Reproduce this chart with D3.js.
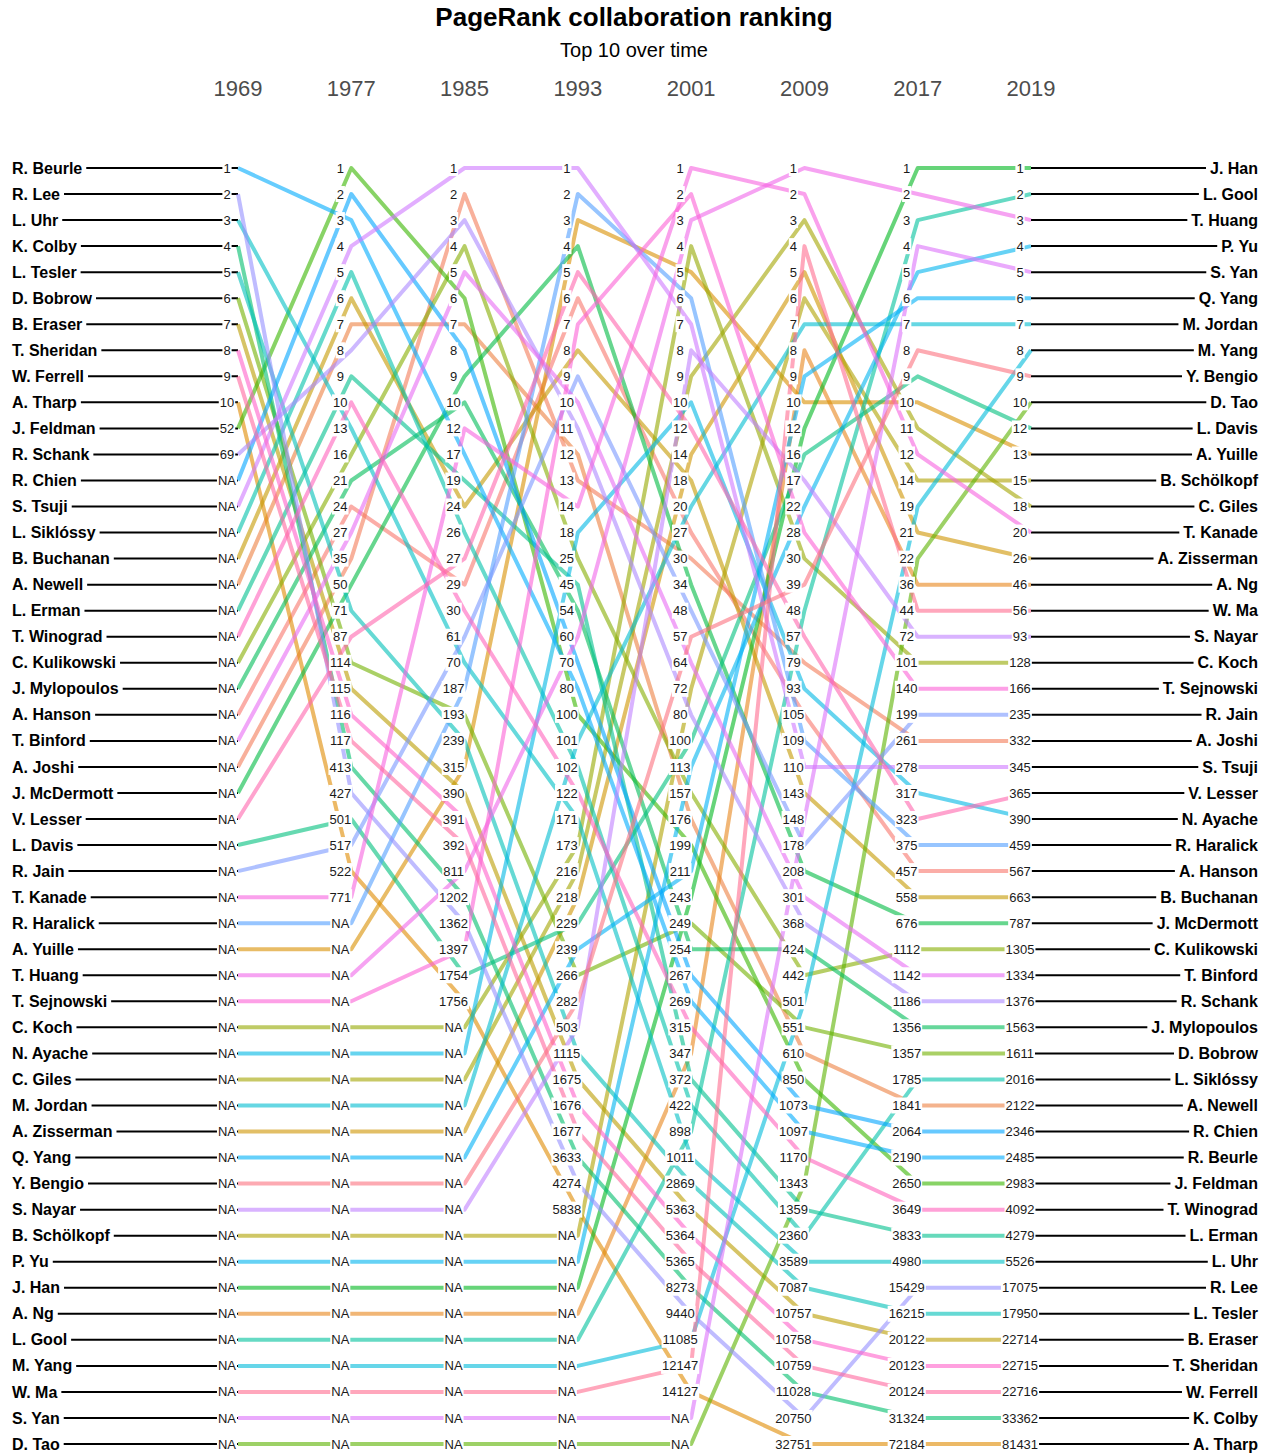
<!doctype html>
<html>
<head>
<script src="https://d3js.org/d3.v7.min.js"></script>
<style>
  body { margin: 0; background: #fff; }
  text { font-family: "Liberation Sans", Arial, sans-serif; }
</style>
</head>
<body>
<svg width="1268" height="1455"></svg>
<script>
// ---- data ----
var years = ["1969", "1977", "1985", "1993", "2001", "2009", "2017", "2019"];

var names = ["R. Beurle", "R. Lee", "L. Uhr", "K. Colby", "L. Tesler", "D. Bobrow", "B. Eraser",
  "T. Sheridan", "W. Ferrell", "A. Tharp", "J. Feldman", "R. Schank", "R. Chien", "S. Tsuji",
  "L. Siklóssy", "B. Buchanan", "A. Newell", "L. Erman", "T. Winograd", "C. Kulikowski",
  "J. Mylopoulos", "A. Hanson", "T. Binford", "A. Joshi", "J. McDermott", "V. Lesser", "L. Davis",
  "R. Jain", "T. Kanade", "R. Haralick", "A. Yuille", "T. Huang", "T. Sejnowski", "C. Koch",
  "N. Ayache", "C. Giles", "M. Jordan", "A. Zisserman", "Q. Yang", "Y. Bengio", "S. Nayar",
  "B. Schölkopf", "P. Yu", "J. Han", "A. Ng", "L. Gool", "M. Yang", "W. Ma", "S. Yan", "D. Tao"];

// rank of each person (same order as names), null = NA
var r1969 = [1, 2, 3, 4, 5, 6, 7, 8, 9, 10, 52, 69, null, null, null, null, null, null, null, null,
  null, null, null, null, null, null, null, null, null, null, null, null, null, null, null, null,
  null, null, null, null, null, null, null, null, null, null, null, null, null, null];
var r1977 = [3, 427, 13, 413, 71, 114, 115, 116, 117, 522, 1, 8, 2, 4, 5, 6, 7, 9, 10, 16,
  21, 24, 27, 35, 50, 87, 501, 517, 771, null, null, null, null, null, null, null,
  null, null, null, null, null, null, null, null, null, null, null, null, null, null];
var r1985 = [17, 1362, 70, 1202, 239, 193, 390, 391, 392, 1756, 6, 3, 8, 1, 26, 24, 7, 19, 30, 4,
  10, 29, 5, 2, 9, 27, 1754, 61, 12, 187, 315, 811, 1397, null, null, null,
  null, null, null, null, null, null, null, null, null, null, null, null, null, null];
var r1993 = [80, 4274, 171, 3633, 1115, 266, 1675, 1676, 1677, 5838, 100, 11, 70, 1, 102, 8, 12, 45, 122, 25,
  54, 6, 10, 13, 4, 5, 229, 9, 14, 2, 3, 60, 7, 173, 18, 216,
  101, 218, 239, 282, 503, null, null, null, null, null, null, null, null, null];
var r2001 = [269, 9440, 1011, 8273, 2869, 249, 5363, 5364, 5365, 14127, 199, 80, 267, 7, 422, 18, 176, 372, 315, 157,
  254, 27, 64, 30, 34, 12, 100, 48, 1, 6, 5, 3, 2, 4, 10, 9,
  20, 14, 211, 57, 8, 72, 113, 243, 347, 898, 11085, 12147, null, null];
var r2009 = [1097, 20750, 3589, 11028, 7087, 551, 10757, 10758, 10759, 32751, 850, 368, 1073, 110, 2360, 143, 610, 1359, 1170, 442,
  424, 105, 301, 79, 208, 57, 16, 178, 2, 109, 10, 1, 28, 30, 93, 3,
  7, 5, 9, 39, 17, 6, 22, 12, 8, 48, 501, 4, 148, 1343];
var r2017 = [2190, 15429, 4980, 31324, 16215, 1357, 20122, 20123, 20124, 72184, 2650, 1186, 2064, 278, 1785, 558, 1841, 3833, 3649, 1112,
  1356, 457, 1142, 261, 676, 323, 9, 199, 12, 375, 10, 2, 140, 101, 317, 11,
  7, 21, 6, 8, 72, 14, 5, 1, 36, 3, 19, 44, 4, 22];
var r2019 = [2485, 17075, 5526, 33362, 17950, 1611, 22714, 22715, 22716, 81431, 2983, 1376, 2346, 345, 2016, 663, 2122, 4279, 4092, 1305,
  1563, 567, 1334, 332, 787, 365, 12, 235, 20, 459, 13, 3, 166, 128, 390, 18,
  7, 26, 6, 9, 93, 15, 4, 1, 46, 2, 8, 56, 5, 10];

var ranks = [r1969, r1977, r1985, r1993, r2001, r2009, r2017, r2019];

// ---- layout ----
var svg = d3.select("svg");
var n = names.length;

var x = d3.scalePoint().domain(years).range([238, 1031]);
var y = d3.scaleLinear().domain([0, n - 1]).range([168, 1444]);

// colour: hue wheel (polar Luv, like R's hcl) over alphabetical order of names
function hclLuv(h, c, l) {
  var hr = h * Math.PI / 180;
  var u = c * Math.cos(hr), v = c * Math.sin(hr);
  var Xn = 95.047, Yn = 100, Zn = 108.883;
  var un = 4 * Xn / (Xn + 15 * Yn + 3 * Zn), vn = 9 * Yn / (Xn + 15 * Yn + 3 * Zn);
  var Y = l > 8 ? Yn * Math.pow((l + 16) / 116, 3) : Yn * l / 903.3;
  var up = u / (13 * l) + un, vp = v / (13 * l) + vn;
  var X = Y * 9 * up / (4 * vp), Z = Y * (12 - 3 * up - 20 * vp) / (4 * vp);
  X /= 100; Y /= 100; Z /= 100;
  var rgb = [
    3.2404542 * X - 1.5371385 * Y - 0.4985314 * Z,
    -0.9692660 * X + 1.8760108 * Y + 0.0415560 * Z,
    0.0556434 * X - 0.2040259 * Y + 1.0572252 * Z
  ].map(function(c) {
    c = c <= 0.0031308 ? 12.92 * c : 1.055 * Math.pow(c, 1 / 2.4) - 0.055;
    return Math.round(255 * Math.max(0, Math.min(1, c)));
  });
  return d3.rgb(rgb[0], rgb[1], rgb[2]).toString();
}
var alpha = names.slice().sort();
var hue = d3.scaleLinear().domain([0, n]).range([15, 375]);
function color(name) {
  return hclLuv(hue(alpha.indexOf(name)) % 360, 100, 65);
}

// row position of every person in every column (NA last, ties keep previous order)
var pos = [];
var prev = d3.range(n);
ranks.forEach(function(r, j) {
  var order = d3.range(n).sort(function(a, b) {
    var ra = r[a] == null ? Infinity : r[a];
    var rb = r[b] == null ? Infinity : r[b];
    return (ra - rb) || (prev[a] - prev[b]);
  });
  var p = [];
  order.forEach(function(person, row) { p[person] = row; });
  pos.push(p);
  prev = p;
});

// title
svg.append("text")
  .attr("x", 634).attr("y", 26)
  .attr("text-anchor", "middle")
  .style("font-size", "26px").style("font-weight", "bold")
  .text("PageRank collaboration ranking");
svg.append("text")
  .attr("x", 634).attr("y", 57)
  .attr("text-anchor", "middle")
  .style("font-size", "20px")
  .text("Top 10 over time");

// year labels
svg.selectAll(".year")
  .data(years).enter()
  .append("text")
  .attr("class", "year")
  .attr("x", d => x(d)).attr("y", 96)
  .attr("text-anchor", "middle")
  .style("font-size", "22px").style("fill", "#4d4d4d")
  .text(d => d);

var first = years[0], last = years[years.length - 1];

var conn = svg.append("g");
var lines = svg.append("g");
var labels = svg.append("g");
var left = svg.append("g");
var right = svg.append("g");

// name labels + black connectors
names.forEach(function(name, i) {
  var ty = y(pos[0][i]);
  var t = left.append("text")
    .attr("x", 12).attr("y", ty).attr("dy", "0.35em")
    .style("font-size", "16px").style("font-weight", "bold")
    .text(name);
  var w = t.node().getComputedTextLength();
  conn.append("line")
    .attr("x1", 12 + w + 4).attr("x2", x(first))
    .attr("y1", ty).attr("y2", ty)
    .attr("stroke", "#000").attr("stroke-width", 2);

  var ry = y(pos[years.length - 1][i]);
  var t2 = right.append("text")
    .attr("x", 1258).attr("y", ry).attr("dy", "0.35em")
    .attr("text-anchor", "end")
    .style("font-size", "16px").style("font-weight", "bold")
    .text(name);
  var w2 = t2.node().getComputedTextLength();
  conn.append("line")
    .attr("x1", x(last)).attr("x2", 1258 - w2 - 4)
    .attr("y1", ry).attr("y2", ry)
    .attr("stroke", "#000").attr("stroke-width", 2);
});

// bump lines, drawn in alphabetical order
var line = d3.line()
  .x(d => x(d.year))
  .y(d => y(d.row));

var series = names.map(function(name, i) {
  return { name: name, pts: years.map(function(yr, j) { return { year: yr, row: pos[j][i] }; }) };
}).sort(function(a, b) { return d3.ascending(a.name, b.name); });

lines.selectAll("path")
  .data(series)
  .enter().append("path")
  .attr("d", d => line(d.pts))
  .attr("fill", "none")
  .attr("stroke", d => color(d.name))
  .attr("stroke-width", 4)
  .attr("stroke-opacity", 0.6)
  .attr("stroke-linejoin", "round");

// rank labels with white boxes
years.forEach(function(yr, j) {
  names.forEach(function(name, i) {
    var v = ranks[j][i];
    var g = labels.append("g")
      .attr("transform", "translate(" + (x(yr) - 11) + "," + y(pos[j][i]) + ")");
    var t = g.append("text")
      .attr("text-anchor", "middle").attr("dy", "0.35em")
      .style("font-size", "13px").style("fill", "#1a1a1a")
      .text(v == null ? "NA" : v);
    var w = t.node().getComputedTextLength();
    g.insert("rect", "text")
      .attr("x", -w / 2 - 1).attr("y", -8)
      .attr("width", w + 2).attr("height", 16)
      .attr("fill", "#fff");
  });
});
</script>
</body>
</html>
